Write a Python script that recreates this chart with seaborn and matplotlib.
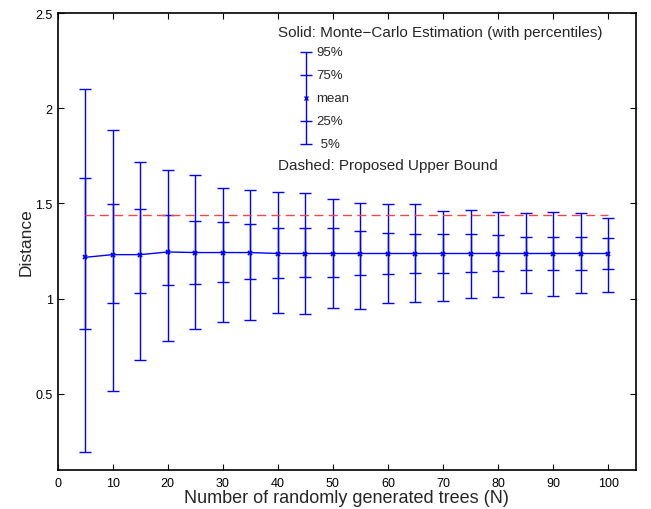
import matplotlib
matplotlib.use("Agg")
import matplotlib.pyplot as plt
import seaborn as sns
import pandas as pd
import numpy as np


# --------------------------------------------------------------------------------------------------
# valores:

n_trees = [5, 10, 15, 20, 25, 30, 35, 40, 45, 50, 55, 60, 65, 70, 75, 80, 85, 90, 95, 100]
p95 = [2.10, 1.884, 1.716, 1.676, 1.651, 1.581, 1.569, 1.558, 1.553, 1.522,
       1.503, 1.497, 1.497, 1.461, 1.466, 1.453, 1.448, 1.457, 1.448, 1.425]
p75 = [1.632, 1.497, 1.471, 1.438, 1.410, 1.405, 1.390, 1.369, 1.369, 1.369,
       1.354, 1.343, 1.338, 1.338, 1.338, 1.333, 1.322, 1.322, 1.325, 1.317]
mean = [1.217, 1.231, 1.231, 1.245, 1.242, 1.242, 1.242, 1.237, 1.237, 1.237,
        1.237, 1.237, 1.237, 1.237, 1.237, 1.237, 1.237, 1.237, 1.237, 1.237]
p25 = [0.838, 0.976, 1.027, 1.072, 1.077, 1.088, 1.104, 1.109, 1.114, 1.114,
       1.123, 1.130, 1.133, 1.133, 1.139, 1.144, 1.151, 1.151, 1.151, 1.156]
p5 = [0.194, 0.516, 0.679, 0.777, 0.838, 0.878, 0.890, 0.925, 0.920, 0.950,
      0.945, 0.976, 0.981, 0.986, 1.002, 1.007, 1.027, 1.016, 1.027, 1.037]

bound_x = [5, 100]
bound_y = [1.441, 1.441]

legend_labels = ["95%", "75%", "mean", "25%", " 5%"]

BLUE = "#0000ff"
RED = "#f04848"


# --------------------------------------------------------------------------------------------------

df = pd.DataFrame({"N": n_trees, "p95": p95, "p75": p75, "mean": mean, "p25": p25, "p5": p5})

sns.set_style("white")
plt.rcParams["font.family"] = ["Liberation Sans", "DejaVu Sans"]

fig = plt.figure(figsize=(6.51, 5.10), dpi=100)
ax = fig.add_axes([0.0885, 0.0765, 0.888, 0.896])

# whiskers 5%-95% e 25%-75%
mid = (df["p95"] + df["p5"]) / 2
ax.errorbar(df["N"], mid, yerr=(df["p95"] - df["p5"]) / 2, fmt="none",
            ecolor=BLUE, elinewidth=1.0, capsize=4, capthick=1.0)
mid2 = (df["p75"] + df["p25"]) / 2
ax.errorbar(df["N"], mid2, yerr=(df["p75"] - df["p25"]) / 2, fmt="none",
            ecolor=BLUE, elinewidth=1.0, capsize=4, capthick=1.0)

# média
sns.lineplot(data=df, x="N", y="mean", ax=ax, color=BLUE, linewidth=1.0,
             marker="x", markersize=3, markeredgewidth=1.3, markeredgecolor=BLUE)

# limite superior
sns.lineplot(x=bound_x, y=bound_y, ax=ax, color=RED, linewidth=1.0)
ax.lines[-1].set_linestyle((0, (6.5, 3.8)))

ax.set_xlim(0, 105)
ax.set_ylim(0.1, 2.5)
ax.set_xticks(np.arange(0, 101, 10))
ax.set_yticks([0.5, 1, 1.5, 2, 2.5])
ax.set_yticklabels(["0.5", "1", "1.5", "2", "2.5"])
ax.tick_params(direction="in", length=4, width=0.8, labelsize=9, colors="black",
               top=True, right=True, bottom=True, left=True)
ax.tick_params(axis="x", pad=5)
for s in ax.spines.values():
    s.set_color("black")
    s.set_linewidth(1.2)

ax.set_xlabel("Number of randomly generated trees (N)", fontsize=13, labelpad=0)
ax.set_ylabel("Distance", fontsize=12.5, labelpad=1)


# --------------------------------------------------------------------------------------------------
# legenda desenhada à mão (estilo MATLAB)

tr = ax.transAxes
lx = 0.4294
ly = [0.914, 0.864, 0.814, 0.764, 0.713]

ax.text(0.3815, 0.958, "Solid: Monte\u2212Carlo Estimation (with percentiles)",
        transform=tr, fontsize=11, va="center", ha="left")
ax.plot([lx, lx], [ly[-1], ly[0]], color=BLUE, linewidth=1.0, transform=tr)
ax.plot([lx] * 4, [ly[0], ly[1], ly[3], ly[4]], linestyle="none", marker="_",
        markersize=8, markeredgewidth=1.0, color=BLUE, transform=tr)
ax.plot([lx], [ly[2]], linestyle="none", marker="x", markersize=2.5,
        markeredgewidth=1.0, color=BLUE, transform=tr)
for yy, lab in zip(ly, legend_labels):
    ax.text(0.448, yy, lab, transform=tr, fontsize=9.5, va="center", ha="left")
ax.text(0.3815, 0.668, "Dashed: Proposed Upper Bound", transform=tr,
        fontsize=11, va="center", ha="left")

plt.savefig("out.png", dpi=100)
plt.close()
